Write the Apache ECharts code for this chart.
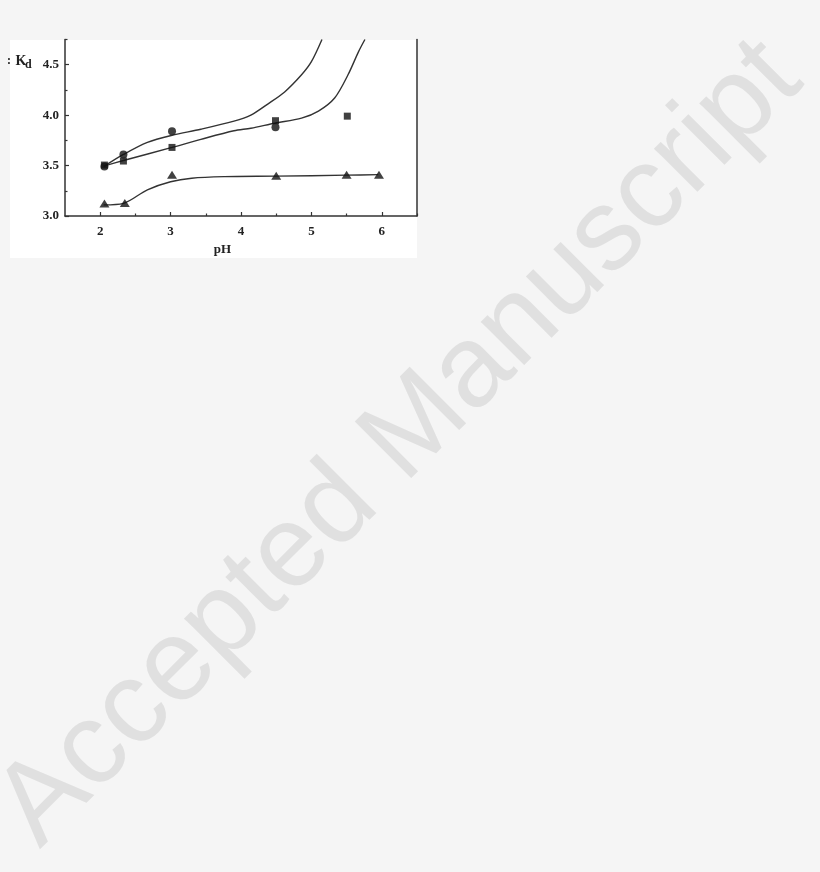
<!DOCTYPE html>
<html>
<head>
<meta charset="utf-8">
<script src="https://cdn.jsdelivr.net/npm/echarts@6/dist/echarts.min.js"></script>
<style>
html,body{margin:0;padding:0;background:#f5f5f5;}
#c{width:820px;height:872px;}
</style>
</head>
<body>
<div id="c"></div>
<script>
// ---- data ----
var xTickLabels = [2, 3, 4, 5, 6];
var xMinorTicks = [2.5, 3.5, 4.5, 5.5, 6.5];
var yTickLabels = [3.0, 3.5, 4.0, 4.5];
var yMinorTicks = [3.25, 3.75, 4.25, 4.75];

var circlePts = [[2.06, 3.49], [2.33, 3.61], [3.02, 3.84], [4.49, 3.88]];
var squarePts = [[2.06, 3.505], [2.33, 3.545], [3.02, 3.68], [4.49, 3.945], [5.51, 3.99]];
var trianglePts = [[2.06, 3.125], [2.35, 3.13], [3.02, 3.41], [4.5, 3.40], [5.5, 3.41], [5.96, 3.41]];

var circleFit = [[2.05, 3.49], [2.33, 3.61], [2.67, 3.73], [3.02, 3.80], [3.43, 3.86], [3.9, 3.94], [4.14, 4.0], [4.38, 4.11], [4.62, 4.23], [4.86, 4.40], [5.0, 4.53], [5.15, 4.75]];
var squareFit = [[2.05, 3.495], [2.33, 3.55], [3.02, 3.68], [3.43, 3.76], [3.9, 3.845], [4.14, 3.87], [4.48, 3.92], [4.86, 3.97], [5.1, 4.04], [5.33, 4.17], [5.52, 4.40], [5.67, 4.63], [5.76, 4.75]];
var triangleFit = [[2.05, 3.11], [2.33, 3.125], [2.67, 3.26], [3.0, 3.34], [3.3, 3.375], [3.76, 3.39], [4.5, 3.395], [5.5, 3.405], [5.95, 3.41]];

var xTitle = 'pH';
var yTitleMain = 'K';
var yTitleSub = 'd';
var watermark = 'Accepted Manuscript';

// ---- chart ----
var chart = echarts.init(document.getElementById('c'));
var ink = '#222';
var serif = '"Liberation Serif", "DejaVu Serif", serif';

function lineSeries(d) {
  return {type: 'line', data: d, smooth: 0.3, showSymbol: false,
    symbol: 'none', lineStyle: {color: '#333', width: 1.4}, z: 3, silent: true, animation: false};
}

var option = {
  backgroundColor: '#f5f5f5',
  animation: false,
  graphic: {elements: [
    {type: 'rect', z: -100, shape: {x: 10, y: 40, width: 407, height: 218}, style: {fill: '#ffffff'}},
    {type: 'text', z: -90, x: 400, y: 444, rotation: Math.PI / 4,
      style: {text: watermark, font: '116px "Liberation Sans", Arial, sans-serif', fill: '#e0e0e0',
        textAlign: 'center', textVerticalAlign: 'middle'}},
    {type: 'text', x: 7, y: 61, style: {text: ':', font: 'bold 12px ' + serif, fill: ink, textVerticalAlign: 'middle'}},
    {type: 'text', x: 15.5, y: 61, style: {text: yTitleMain, font: 'bold 14px ' + serif, fill: ink, textVerticalAlign: 'middle'}},
    {type: 'text', x: 25, y: 65, style: {text: yTitleSub, font: 'bold 12px ' + serif, fill: ink, textVerticalAlign: 'middle'}},
    {type: 'text', x: 222.5, y: 250, style: {text: xTitle, font: 'bold 13px ' + serif, fill: ink, textAlign: 'center', textVerticalAlign: 'middle'}}
  ]},
  grid: {left: 65, right: 403, top: 39.5, bottom: 656, containLabel: false},
  xAxis: [
    {type: 'value', min: 1.5, max: 6.5, position: 'bottom',
      axisLine: {show: true, lineStyle: {color: '#333', width: 1.5}},
      axisTick: {show: true, inside: true, length: 4, customValues: xTickLabels, lineStyle: {color: '#333', width: 1.2}},
      axisLabel: {show: true, customValues: xTickLabels, margin: 9, color: ink, fontFamily: serif, fontWeight: 'bold', fontSize: 13},
      splitLine: {show: false}},
    {type: 'value', min: 1.5, max: 6.5, position: 'bottom',
      axisLine: {show: false},
      axisTick: {show: true, inside: true, length: 2.5, customValues: xMinorTicks, lineStyle: {color: '#333', width: 1.2}},
      axisLabel: {show: false}, splitLine: {show: false}}
  ],
  yAxis: [
    {type: 'value', min: 3.0, max: 4.75, position: 'left',
      axisLine: {show: true, lineStyle: {color: '#333', width: 1.5}},
      axisTick: {show: true, inside: true, length: 4, customValues: yTickLabels, lineStyle: {color: '#333', width: 1.2}},
      axisLabel: {show: true, customValues: yTickLabels, margin: 6, color: ink, fontFamily: serif, fontWeight: 'bold', fontSize: 13,
        formatter: function (v) { return v.toFixed(1); }},
      splitLine: {show: false}},
    {type: 'value', min: 3.0, max: 4.75, position: 'left',
      axisLine: {show: false},
      axisTick: {show: true, inside: true, length: 2.5, customValues: yMinorTicks, lineStyle: {color: '#333', width: 1.2}},
      axisLabel: {show: false}, splitLine: {show: false}},
    {type: 'value', min: 3.0, max: 4.75, position: 'right',
      axisLine: {show: true, lineStyle: {color: '#333', width: 1.5}},
      axisTick: {show: false}, axisLabel: {show: false}, splitLine: {show: false}}
  ],
  series: [
    lineSeries(circleFit),
    lineSeries(squareFit),
    lineSeries(triangleFit),
    {type: 'scatter', data: circlePts, symbol: 'circle', symbolSize: 8, itemStyle: {color: '#111'}, z: 4},
    {type: 'scatter', data: squarePts, symbol: 'rect', symbolSize: 7, itemStyle: {color: '#111'}, z: 4},
    {type: 'scatter', data: trianglePts, symbol: 'triangle', symbolSize: [10, 8], itemStyle: {color: '#111'}, z: 4}
  ]
};
chart.setOption(option);
</script>
</body>
</html>
